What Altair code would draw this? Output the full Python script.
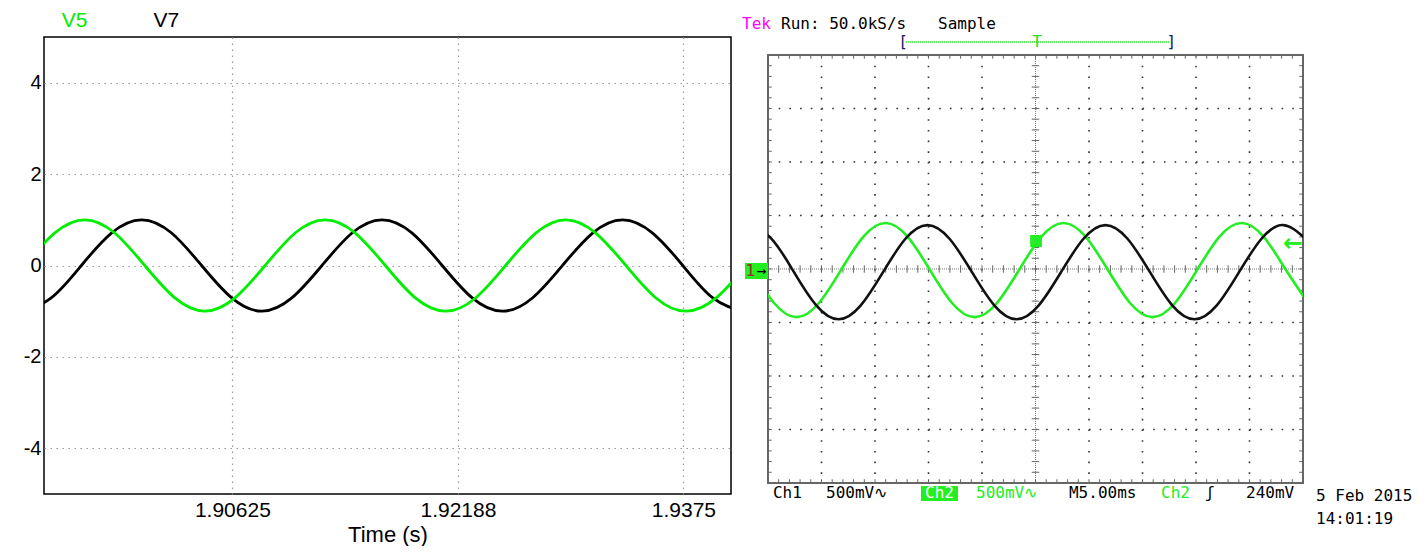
import altair as alt
import pandas as pd

# ---------------- Left panel: simulated voltages (time s, volts) ----------------
V5_TIME = [1.89185, 1.89393, 1.89602, 1.89810, 1.90018, 1.90227, 1.90435, 1.90643, 1.90852,
           1.91060, 1.91268, 1.91477, 1.91685, 1.91893, 1.92102, 1.92310, 1.92518, 1.92727,
           1.92935, 1.93143, 1.93352, 1.93560, 1.93768, 1.93977, 1.94185]
V5_VOLT = [0.0, 0.71, 1.0, 0.71, 0.0, -0.71, -1.0, -0.71, 0.0,
           0.71, 1.0, 0.71, 0.0, -0.71, -1.0, -0.71, 0.0, 0.71,
           1.0, 0.71, 0.0, -0.71, -1.0, -0.71, 0.0]
V7_TIME = [1.89162, 1.89370, 1.89579, 1.89787, 1.89996, 1.90204, 1.90412, 1.90621, 1.90829,
           1.91037, 1.91246, 1.91454, 1.91662, 1.91871, 1.92079, 1.92287, 1.92496, 1.92704,
           1.92912, 1.93121, 1.93329, 1.93537, 1.93746, 1.93954, 1.94162]
V7_VOLT = [-1.0, -0.71, 0.0, 0.71, 1.0, 0.71, 0.0, -0.71, -1.0,
           -0.71, 0.0, 0.71, 1.0, 0.71, 0.0, -0.71, -1.0, -0.71,
           0.0, 0.71, 1.0, 0.71, 0.0, -0.71, -1.0]
SERIES = ["V5", "V7"]
SERIES_COLORS = ["#00ee00", "#000000"]
LEGEND_T = [1.89443, 1.90079]
LEGEND_V = [5.36, 5.36]
LEFT_X_DOMAIN = [1.8932, 1.9408]
LEFT_Y_DOMAIN = [-5, 5]
X_TICKS = [1.90625, 1.92188, 1.9375]
Y_TICKS = [-4, -2, 0, 2, 4]

# ---------------- Right panel: oscilloscope (divisions) ----------------
CH2_X = [-5.299, -4.883, -4.467, -4.051, -3.636, -3.220, -2.804, -2.388, -1.972, -1.556,
         -1.140, -0.724, -0.308, 0.107, 0.523, 0.939, 1.355, 1.771, 2.187, 2.603,
         3.019, 3.435, 3.850, 4.266, 4.682, 5.098]
CH2_Y = [-0.02, -0.64, -0.90, -0.64, -0.02, 0.60, 0.86, 0.60, -0.02, -0.64,
         -0.90, -0.64, -0.02, 0.60, 0.86, 0.60, -0.02, -0.64, -0.90, -0.64,
         -0.02, 0.60, 0.86, 0.60, -0.02, -0.64]
CH1_X = [-5.346, -4.930, -4.514, -4.098, -3.682, -3.266, -2.850, -2.435, -2.019, -1.603,
         -1.187, -0.771, -0.355, 0.061, 0.477, 0.893, 1.308, 1.724, 2.140, 2.556,
         2.972, 3.388, 3.804, 4.220, 4.636, 5.051]
CH1_Y = [0.82, 0.56, -0.06, -0.68, -0.94, -0.68, -0.06, 0.56, 0.82, 0.56,
         -0.06, -0.68, -0.94, -0.68, -0.06, 0.56, 0.82, 0.56, -0.06, -0.68,
         -0.94, -0.68, -0.06, 0.56, 0.82, 0.56]
CH1_COLOR = "#111111"
CH2_COLOR = "#22ee22"
SCOPE_X_DOMAIN = [-5, 5]
SCOPE_Y_DOMAIN = [-4.206, 4.336]
GRID_X = [-4, -3, -2, -1, 1, 2, 3, 4]
GRID_Y = [-3, -2, -1, 1, 2, 3]
MINOR_X = [round(-5 + 0.2 * i, 2) for i in range(51)]
MINOR_Y = [round(-4 + 0.2 * i, 2) for i in range(41)]

SCOPE_TEXT = ["Tek", "Run: 50.0kS/s", "Sample", "Ch1", "500mV\u223f", "500mV\u223f",
              "M5.00ms", "Ch2", "\u0283", "240mV", "5 Feb 2015", "14:01:19"]
SCOPE_TEXT_X = [-5.486, -4.757, -1.822, -4.907, -3.916, -1.112,
                0.626, 2.346, 3.170, 3.935, 5.243, 5.243]
SCOPE_TEXT_Y = [4.579, 4.579, 4.579, -4.187, -4.187, -4.187,
                -4.187, -4.187, -4.187, -4.187, -4.243, -4.673]
SCOPE_TEXT_COLOR = ["#ff00ff", "#000000", "#000000", "#000000", "#000000", "#22ee22",
                    "#000000", "#22ee22", "#000000", "#000000", "#000000", "#000000"]

# ---------------- Left chart ----------------
left_df = pd.concat([
    pd.DataFrame({"t": V7_TIME, "v": V7_VOLT, "s": "V7", "o": 0}),
    pd.DataFrame({"t": V5_TIME, "v": V5_VOLT, "s": "V5", "o": 1}),
])
lx_scale = alt.Scale(domain=LEFT_X_DOMAIN, nice=False, zero=False)
ly_scale = alt.Scale(domain=LEFT_Y_DOMAIN, nice=False, zero=False)
col_scale = alt.Scale(domain=SERIES, range=SERIES_COLORS)

lines = alt.Chart(left_df).mark_line(interpolate="natural", strokeWidth=2.8, clip=True).encode(
    x=alt.X("t:Q", scale=lx_scale,
            axis=alt.Axis(values=X_TICKS, format=".5~f", title="Time (s)", grid=True,
                          gridDash=[1.5, 4.5], gridColor="#999999", gridWidth=1.2,
                          domain=False, ticks=False, labelFontSize=21, labelPadding=5,
                          labelColor="black", titleFontSize=22, titleFontWeight="normal",
                          titleColor="black", titlePadding=4)),
    y=alt.Y("v:Q", scale=ly_scale,
            axis=alt.Axis(values=Y_TICKS, title=None, grid=True, gridDash=[1.5, 4.5],
                          gridColor="#999999", gridWidth=1.2, domain=False, ticks=False,
                          labelFontSize=20, labelPadding=3, labelColor="black",
                          labelExpr="replace(datum.label, '\u2212', '-')")),
    color=alt.Color("s:N", scale=col_scale, legend=None),
    detail="s:N",
    order="o:Q",
)
legend_df = pd.DataFrame({"s": SERIES, "t": LEGEND_T, "v": LEGEND_V})
legend = alt.Chart(legend_df).mark_text(align="left", baseline="middle", fontSize=21).encode(
    x=alt.X("t:Q", scale=lx_scale),
    y=alt.Y("v:Q", scale=ly_scale),
    color=alt.Color("s:N", scale=col_scale, legend=None),
    text="s:N",
)
left = alt.layer(lines, legend).properties(
    width=687, height=457,
    view=alt.ViewBackground(stroke="black", strokeWidth=1.5),
)

# ---------------- Right chart (scope) ----------------
def sx(f):
    return alt.X(f, type="quantitative",
                 scale=alt.Scale(domain=SCOPE_X_DOMAIN, nice=False, zero=False), axis=None)


def sy(f):
    return alt.Y(f, type="quantitative",
                 scale=alt.Scale(domain=SCOPE_Y_DOMAIN, nice=False, zero=False), axis=None)


grid_rows = ([{"x": gx, "x2": gx, "y": 4, "y2": -4} for gx in GRID_X] +
             [{"x": -5, "x2": 5, "y": gy, "y2": gy} for gy in GRID_Y])
grid = alt.Chart(pd.DataFrame(grid_rows)).mark_rule(
    strokeDash=[1.6, 9.1], strokeWidth=1.6, color="#333333").encode(
    x=sx("x"), x2="x2:Q", y=sy("y"), y2="y2:Q")

center_rows = [{"x": 0, "x2": 0, "y": 4, "y2": -4}, {"x": -5, "x2": 5, "y": 0, "y2": 0}]
center = alt.Chart(pd.DataFrame(center_rows)).mark_rule(
    strokeDash=[1, 1], strokeWidth=1, color="#777777").encode(
    x=sx("x"), x2="x2:Q", y=sy("y"), y2="y2:Q")

tick_rows = ([{"x": m, "x2": m, "y": -0.07, "y2": 0.07} for m in MINOR_X] +
             [{"x": -0.07, "x2": 0.07, "y": m, "y2": m} for m in MINOR_Y] +
             [{"x": m, "x2": m, "y": 4, "y2": 3.93} for m in MINOR_X] +
             [{"x": m, "x2": m, "y": -4, "y2": -3.93} for m in MINOR_X] +
             [{"x": -5, "x2": -4.93, "y": m, "y2": m} for m in MINOR_Y] +
             [{"x": 5, "x2": 4.93, "y": m, "y2": m} for m in MINOR_Y])
ticks = alt.Chart(pd.DataFrame(tick_rows)).mark_rule(strokeWidth=1, color="#666666").encode(
    x=sx("x"), x2="x2:Q", y=sy("y"), y2="y2:Q")

border = alt.Chart(pd.DataFrame([{"x": -5, "x2": 5, "y": -4, "y2": 4}])).mark_rect(
    fillOpacity=0, stroke="#666666", strokeWidth=2).encode(
    x=sx("x"), x2="x2:Q", y=sy("y"), y2="y2:Q")

ch2_line = alt.Chart(pd.DataFrame({"x": CH2_X, "y": CH2_Y})).mark_line(
    interpolate="natural", strokeWidth=2.6, clip=True, color=CH2_COLOR).encode(
    x=sx("x"), y=sy("y"))
ch1_line = alt.Chart(pd.DataFrame({"x": CH1_X, "y": CH1_Y})).mark_line(
    interpolate="natural", strokeWidth=2.6, clip=True, color=CH1_COLOR).encode(
    x=sx("x"), y=sy("y"))

# markers: Ch2 label box, Ch1 ground marker, Ch2 ground marker
marker_rows = [
    {"x": -2.140, "x2": -1.449, "y": -4.056, "y2": -4.336},
    {"x": -5.43, "x2": -5.0, "y": 0.112, "y2": -0.187},
    {"x": -0.10, "x2": 0.12, "y": 0.636, "y2": 0.411},
]
markers = alt.Chart(pd.DataFrame(marker_rows)).mark_rect(color=CH2_COLOR).encode(
    x=sx("x"), x2="x2:Q", y=sy("y"), y2="y2:Q")

# trigger window bar at the top
trig_line = alt.Chart(pd.DataFrame([{"x": -2.42, "x2": 2.52, "y": 4.243}])).mark_rule(
    strokeDash=[1, 1], strokeWidth=2, color="#55ee55").encode(
    x=sx("x"), x2="x2:Q", y=sy("y"))

sym_df = pd.DataFrame({
    "txt": ["[", "]", "T", "1", "\u2192", "Ch2"],
    "x": [-2.477, 2.540, 0.03, -5.33, -5.12, -1.794],
    "y": [4.243, 4.243, 4.243, -0.04, -0.04, -4.19],
    "c": ["#1a1a66", "#1a1a66", "#22dd22", "#aa2222", "#000000", "#ffffff"],
})
syms = alt.Chart(sym_df).mark_text(baseline="middle", align="center",
                                   font="DejaVu Sans Mono", fontSize=16).encode(
    x=sx("x"), y=sy("y"), text="txt:N",
    color=alt.Color("c:N", scale=None),
)

arrow = alt.Chart(pd.DataFrame({"txt": ["\u2190"], "x": [5.0], "y": [0.467]})).mark_text(
    baseline="middle", align="right", font="DejaVu Sans", fontSize=24, fontWeight="bold",
    color=CH2_COLOR).encode(x=sx("x"), y=sy("y"), text="txt:N")

text_df = pd.DataFrame({"txt": SCOPE_TEXT, "x": SCOPE_TEXT_X, "y": SCOPE_TEXT_Y,
                        "c": SCOPE_TEXT_COLOR})
texts = alt.Chart(text_df).mark_text(align="left", baseline="middle",
                                     font="DejaVu Sans Mono", fontSize=16).encode(
    x=sx("x"), y=sy("y"), text="txt:N",
    color=alt.Color("c:N", scale=None),
)

right = alt.layer(grid, center, ticks, border, ch2_line, ch1_line, markers, trig_line,
                  syms, arrow, texts).properties(width=535, height=457)

chart = alt.hconcat(left, right, spacing=37, bounds="flush").properties(
    padding={"left": 14, "top": 0, "right": 0, "bottom": 0},
    background="white",
).configure(font="Liberation Sans").configure_view(strokeWidth=0)

chart.save("out.html", embed_options={"renderer": "svg", "actions": False})
